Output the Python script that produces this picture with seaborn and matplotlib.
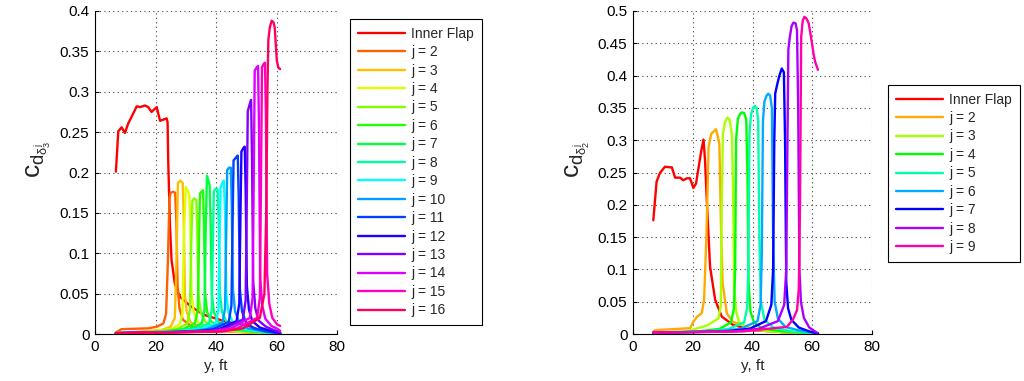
import colorsys

import numpy as np
import pandas as pd
import seaborn as sns
import matplotlib
matplotlib.use("Agg")
import matplotlib.pyplot as plt

# ---- data: (y [ft], c) pairs ----
# left panel: delta_3
L_INNER = [(6.9, 0.201), (7.7, 0.251), (8.8, 0.256), (9.9, 0.249), (11.0, 0.261), (12.1, 0.269),
           (13.8, 0.282), (14.9, 0.281), (16.5, 0.283), (17.6, 0.281), (18.7, 0.275), (20.4, 0.281),
           (21.5, 0.264), (23.7, 0.267), (24.0, 0.262), (24.2, 0.215), (24.8, 0.133), (25.3, 0.092),
           (26.4, 0.062), (28.1, 0.046), (31.4, 0.035), (35.8, 0.024), (43.5, 0.015), (50.1, 0.011),
           (54.5, 0.005), (61.2, 0.001)]
L_J2 = [(6.9, 0.002), (8.8, 0.006), (17.6, 0.007), (20.4, 0.009), (22.6, 0.013), (23.5, 0.025),
        (24.1, 0.09), (24.6, 0.168), (25.0, 0.175), (25.8, 0.176), (26.5, 0.175), (26.9, 0.14),
        (27.3, 0.06), (27.9, 0.032), (29.0, 0.018), (32.0, 0.009), (40.0, 0.004), (50.0, 0.002), (61.2, 0.001)]
L_J3 = [(6.9, 0.001), (15.0, 0.003), (22.0, 0.005), (25.0, 0.009), (26.4, 0.02), (27.0, 0.1),
        (27.4, 0.187), (28.2, 0.19), (29.0, 0.187), (29.3, 0.15), (29.7, 0.05), (30.3, 0.028),
        (31.5, 0.015), (35.0, 0.007), (45.0, 0.003), (61.2, 0.001)]
L_J4 = [(6.9, 0.001), (18.0, 0.003), (25.0, 0.006), (28.0, 0.012), (28.9, 0.025), (29.4, 0.12),
        (30.0, 0.182), (30.6, 0.178), (31.2, 0.172), (31.5, 0.14), (31.9, 0.05), (32.6, 0.028),
        (34.0, 0.015), (38.0, 0.007), (48.0, 0.003), (61.2, 0.001)]
L_J5 = [(6.9, 0.001), (20.0, 0.003), (27.0, 0.006), (30.5, 0.013), (31.4, 0.03), (31.8, 0.11),
        (32.2, 0.165), (32.8, 0.168), (33.5, 0.166), (33.8, 0.13), (34.2, 0.05), (34.9, 0.027),
        (36.5, 0.015), (40.0, 0.007), (50.0, 0.003), (61.2, 0.001)]
L_J6 = [(6.9, 0.001), (22.0, 0.003), (29.0, 0.006), (33.0, 0.013), (34.0, 0.03), (34.4, 0.12),
        (34.7, 0.174), (35.2, 0.176), (35.7, 0.178), (36.0, 0.14), (36.4, 0.05), (37.1, 0.027),
        (38.5, 0.015), (42.0, 0.007), (52.0, 0.003), (61.2, 0.001)]
L_J7 = [(6.9, 0.001), (24.0, 0.003), (31.0, 0.006), (35.3, 0.013), (36.2, 0.03), (36.6, 0.13),
        (37.0, 0.196), (37.5, 0.19), (37.9, 0.184), (38.2, 0.14), (38.6, 0.05), (39.3, 0.027),
        (40.8, 0.015), (44.0, 0.007), (53.0, 0.003), (61.2, 0.001)]
L_J8 = [(6.9, 0.001), (26.0, 0.003), (33.0, 0.006), (37.7, 0.013), (38.6, 0.03), (39.0, 0.12),
        (39.3, 0.177), (39.9, 0.18), (40.5, 0.179), (40.9, 0.14), (41.3, 0.05), (42.0, 0.027),
        (43.5, 0.015), (46.5, 0.007), (54.0, 0.003), (61.2, 0.001)]
L_J9 = [(6.9, 0.001), (28.0, 0.003), (35.0, 0.006), (39.9, 0.013), (40.8, 0.03), (41.2, 0.12),
        (41.5, 0.182), (42.1, 0.187), (42.6, 0.19), (43.0, 0.15), (43.4, 0.05), (44.1, 0.027),
        (45.5, 0.015), (48.5, 0.007), (55.0, 0.003), (61.2, 0.001)]
L_J10 = [(6.9, 0.001), (30.0, 0.003), (37.0, 0.006), (42.1, 0.014), (43.0, 0.032), (43.4, 0.13),
         (43.7, 0.203), (44.3, 0.206), (44.9, 0.206), (45.2, 0.16), (45.6, 0.055), (46.3, 0.028),
         (47.6, 0.015), (50.5, 0.007), (56.0, 0.003), (61.2, 0.001)]
L_J11 = [(6.9, 0.001), (32.0, 0.003), (39.0, 0.006), (44.2, 0.015), (45.1, 0.035), (45.5, 0.14),
         (45.8, 0.215), (46.5, 0.218), (47.2, 0.221), (47.5, 0.17), (47.9, 0.055), (48.6, 0.028),
         (49.8, 0.015), (52.5, 0.007), (57.0, 0.003), (61.2, 0.001)]
L_J12 = [(6.9, 0.001), (34.0, 0.003), (41.0, 0.006), (46.8, 0.016), (47.7, 0.038), (48.1, 0.15),
         (48.4, 0.226), (49.0, 0.23), (49.5, 0.232), (49.8, 0.18), (50.2, 0.06), (50.9, 0.03),
         (52.0, 0.016), (54.5, 0.008), (58.0, 0.004), (61.2, 0.001)]
L_J13 = [(6.9, 0.001), (36.0, 0.003), (43.0, 0.007), (48.9, 0.018), (49.8, 0.042), (50.2, 0.17),
         (50.5, 0.276), (51.1, 0.284), (51.6, 0.29), (51.9, 0.22), (52.3, 0.065), (53.0, 0.032),
         (54.0, 0.017), (56.5, 0.009), (59.0, 0.005), (61.2, 0.002)]
L_J14 = [(6.9, 0.001), (38.0, 0.003), (45.0, 0.007), (51.2, 0.02), (52.1, 0.045), (52.5, 0.2),
         (52.8, 0.326), (53.4, 0.33), (53.9, 0.332), (54.2, 0.26), (54.6, 0.07), (55.3, 0.035),
         (56.3, 0.019), (58.3, 0.01), (60.0, 0.007), (61.2, 0.004)]
L_J15 = [(6.9, 0.001), (40.0, 0.003), (47.0, 0.007), (53.6, 0.02), (54.5, 0.045), (54.9, 0.2),
         (55.2, 0.33), (55.7, 0.334), (56.2, 0.336), (56.5, 0.27), (56.9, 0.075), (57.6, 0.038),
         (58.6, 0.02), (60.2, 0.012), (61.2, 0.01)]
L_J16 = [(6.9, 0.001), (42.0, 0.003), (49.0, 0.007), (54.5, 0.02), (56.0, 0.05), (56.6, 0.15),
         (57.0, 0.3), (57.3, 0.364), (57.8, 0.38), (58.4, 0.388), (59.0, 0.386), (59.4, 0.38),
         (60.1, 0.339), (60.6, 0.33), (61.2, 0.328)]

# right panel: delta_2
R_INNER = [(6.8, 0.176), (7.9, 0.236), (9.0, 0.249), (10.7, 0.259), (12.4, 0.258), (13.0, 0.258),
           (14.1, 0.242), (15.8, 0.242), (16.8, 0.238), (18.0, 0.241), (19.1, 0.241), (20.2, 0.226),
           (21.1, 0.233), (22.0, 0.259), (22.9, 0.285), (23.6, 0.301), (24.1, 0.27), (24.7, 0.207),
           (25.8, 0.104), (27.5, 0.053), (29.7, 0.027), (33.5, 0.014), (40.0, 0.006), (50.0, 0.003),
           (61.9, 0.001)]
R_J2 = [(6.8, 0.004), (7.4, 0.006), (19.1, 0.009), (20.2, 0.019), (21.5, 0.027), (23.0, 0.032),
        (23.8, 0.053), (24.6, 0.156), (25.3, 0.29), (26.2, 0.31), (27.8, 0.317), (28.9, 0.295),
        (29.5, 0.156), (30.0, 0.079), (31.4, 0.032), (33.4, 0.019), (40.0, 0.008), (50.0, 0.003),
        (61.9, 0.001)]
R_J3 = [(6.8, 0.002), (18.0, 0.004), (24.7, 0.013), (28.6, 0.024), (29.4, 0.045), (29.7, 0.2),
        (30.1, 0.31), (30.8, 0.328), (31.6, 0.335), (32.3, 0.332), (33.1, 0.31), (33.5, 0.22),
        (33.9, 0.07), (34.5, 0.035), (35.5, 0.018), (38.0, 0.009), (45.0, 0.004), (61.9, 0.001)]
R_J4 = [(6.8, 0.002), (22.0, 0.004), (29.0, 0.008), (32.8, 0.018), (33.8, 0.04), (34.2, 0.1),
        (34.5, 0.3), (35.1, 0.333), (35.9, 0.341), (36.5, 0.343), (37.2, 0.342), (37.9, 0.332),
        (38.3, 0.25), (38.7, 0.08), (39.3, 0.035), (40.5, 0.018), (43.0, 0.009), (50.0, 0.004),
        (61.9, 0.001)]
R_J5 = [(6.8, 0.002), (25.0, 0.004), (32.0, 0.008), (37.2, 0.018), (38.2, 0.04), (38.6, 0.1),
        (39.0, 0.31), (39.5, 0.34), (40.2, 0.35), (40.8, 0.353), (41.4, 0.35), (41.9, 0.33),
        (42.3, 0.15), (42.8, 0.05), (44.0, 0.022), (47.0, 0.01), (53.0, 0.004), (61.9, 0.001)]
R_J6 = [(6.8, 0.002), (28.0, 0.004), (36.0, 0.008), (41.7, 0.02), (42.7, 0.045), (43.1, 0.12),
        (43.5, 0.33), (44.0, 0.36), (44.7, 0.369), (45.3, 0.372), (45.9, 0.369), (46.5, 0.35),
        (46.9, 0.15), (47.4, 0.05), (48.5, 0.024), (51.0, 0.011), (56.0, 0.005), (61.9, 0.001)]
R_J7 = [(6.8, 0.002), (31.0, 0.004), (39.0, 0.008), (44.5, 0.02), (46.3, 0.045), (46.9, 0.1),
        (47.3, 0.3), (47.6, 0.372), (48.2, 0.385), (49.0, 0.4), (49.8, 0.411), (50.5, 0.405),
        (50.9, 0.3), (51.3, 0.08), (51.9, 0.04), (53.0, 0.022), (55.5, 0.01), (59.0, 0.004),
        (61.9, 0.001)]
R_J8 = [(6.8, 0.002), (34.0, 0.004), (42.0, 0.008), (48.5, 0.02), (50.6, 0.045), (51.3, 0.1),
        (51.7, 0.3), (52.0, 0.44), (52.5, 0.46), (53.1, 0.477), (53.7, 0.482), (54.4, 0.481),
        (54.9, 0.47), (55.3, 0.35), (55.7, 0.1), (56.2, 0.05), (57.2, 0.025), (59.0, 0.01),
        (61.6, 0.002)]
R_J9 = [(6.8, 0.002), (37.0, 0.004), (45.0, 0.008), (51.5, 0.011), (53.5, 0.022), (54.9, 0.037),
        (55.5, 0.07), (55.9, 0.2), (56.3, 0.46), (56.8, 0.485), (57.4, 0.491), (58.1, 0.488),
        (58.8, 0.481), (59.4, 0.465), (59.9, 0.45), (60.5, 0.432), (61.0, 0.421), (61.9, 0.409)]

LEFT_SERIES = [L_INNER, L_J2, L_J3, L_J4, L_J5, L_J6, L_J7, L_J8, L_J9, L_J10,
               L_J11, L_J12, L_J13, L_J14, L_J15, L_J16]
RIGHT_SERIES = [R_INNER, R_J2, R_J3, R_J4, R_J5, R_J6, R_J7, R_J8, R_J9]
LEFT_LABELS = ["Inner Flap"] + [f"j = {j}" for j in range(2, 17)]
RIGHT_LABELS = ["Inner Flap"] + [f"j = {j}" for j in range(2, 10)]

X_TICKS = [0, 20, 40, 60, 80]
LEFT_YTICKS = [0, 0.05, 0.1, 0.15, 0.2, 0.25, 0.3, 0.35, 0.4]
RIGHT_YTICKS = [0, 0.05, 0.1, 0.15, 0.2, 0.25, 0.3, 0.35, 0.4, 0.45, 0.5]


def to_frame(series, labels):
    rows = []
    for lab, pts in zip(labels, series):
        for y, c in pts:
            rows.append({"y": y, "c": c, "series": lab})
    return pd.DataFrame(rows)


def hsv_colors(n):
    # matlab hsv(n)
    return [colorsys.hsv_to_rgb(i / n, 1.0, 1.0) for i in range(n)]


sns.set_style("white")
plt.rcParams["font.family"] = ["Liberation Sans", "DejaVu Sans"]
plt.rcParams["mathtext.fontset"] = "custom"
plt.rcParams["mathtext.rm"] = "Liberation Sans"
plt.rcParams["mathtext.it"] = "Liberation Sans"

fig = plt.figure(figsize=(10.24, 3.81), dpi=100)
ax_l = fig.add_axes([95 / 1024, 47 / 381, 242 / 1024, 323 / 381])
ax_r = fig.add_axes([633 / 1024, 47 / 381, 239 / 1024, 323 / 381])


def draw(ax, series, labels, yticks, ylabel, label_x, legend_anchor):
    df = to_frame(series, labels)
    sns.lineplot(data=df, x="y", y="c", hue="series", hue_order=labels,
                 palette=hsv_colors(len(labels)), sort=False, estimator=None,
                 linewidth=1.7, ax=ax)
    ax.set_xlim(0, 80)
    ax.set_ylim(0, yticks[-1])
    ax.set_xticks(X_TICKS)
    ax.set_xticklabels([str(t) for t in X_TICKS])
    ax.set_yticks(yticks)
    ax.set_yticklabels([f"{t:g}" for t in yticks])
    ax.tick_params(direction="in", length=3, width=0.8, labelsize=11, pad=4,
                   left=True, bottom=True, colors="black")
    ax.grid(True, linestyle=(0, (1, 3)), color="0.25", linewidth=0.8)
    for s in ("top", "right"):
        ax.spines[s].set_visible(False)
    for s in ("left", "bottom"):
        ax.spines[s].set_color("black")
        ax.spines[s].set_linewidth(0.8)
    ax.set_xlabel("y, ft", fontsize=11, labelpad=4)
    ax.set_ylabel(ylabel, fontsize=19)
    ax.yaxis.set_label_coords(label_x, 0.54)
    handles, labs = ax.get_legend_handles_labels()
    ax.legend(handles, labs, loc="upper left", bbox_to_anchor=legend_anchor,
              fontsize=10, frameon=True, fancybox=False, edgecolor="black",
              framealpha=1, handlelength=3.4, handletextpad=0.45,
              labelspacing=0.32, borderpad=0.55, borderaxespad=0)
    ax.get_legend().get_frame().set_linewidth(0.8)


draw(ax_l, LEFT_SERIES, LEFT_LABELS, LEFT_YTICKS, r"$c_{d_{\delta^j_3}}$", -0.172, (1.054, 0.975))
draw(ax_r, RIGHT_SERIES, RIGHT_LABELS, RIGHT_YTICKS, r"$c_{d_{\delta^j_2}}$", -0.172, (1.067, 0.771))

fig.savefig("out.png", dpi=100)
